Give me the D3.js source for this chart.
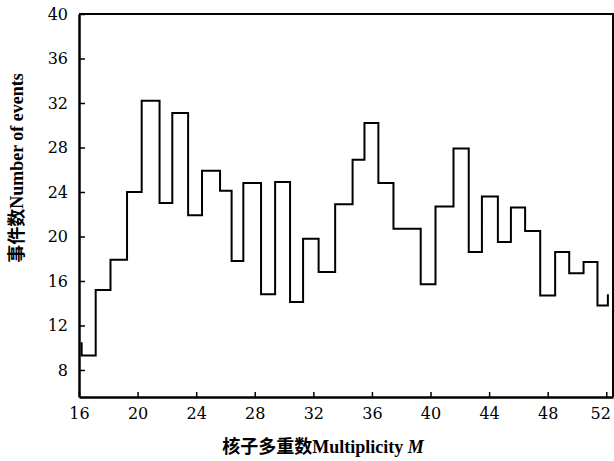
<!DOCTYPE html>
<html>
<head>
<meta charset="utf-8">
<script src="https://cdn.jsdelivr.net/npm/d3@7"></script>
<style>
  body { margin: 0; background: #fff; }
  svg { display: block; }
</style>
</head>
<body>
<div id="chart"></div>
<script>
// bin edges along multiplicity M
var binEdges = [16.18, 17.14, 18.15, 19.28, 20.28, 21.50, 22.37, 23.45, 24.40, 25.63,
    26.42, 27.22, 28.43, 29.39, 30.41, 31.30, 32.36, 33.49, 34.68, 35.49,
    36.44, 37.47, 39.33, 40.34, 41.57, 42.61, 43.51, 44.60, 45.49, 46.46,
    47.49, 48.51, 49.47, 50.45, 51.40, 52.11];
// number of events in each bin
var counts = [9.3, 15.2, 17.9, 24.0, 32.2, 23.0, 31.1, 21.9, 25.9, 24.1,
    17.8, 24.8, 14.8, 24.9, 14.1, 19.8, 16.8, 22.9, 26.9, 30.2,
    24.8, 20.7, 15.7, 22.7, 27.9, 18.6, 23.6, 19.5, 22.6, 20.5,
    14.7, 18.6, 16.7, 17.7, 13.8];
var startLevel = 10.5, endLevel = 14.8;
var xTicks = [16, 20, 24, 28, 32, 36, 40, 44, 48, 52];
var yTicks = [8, 12, 16, 20, 24, 28, 32, 36, 40];

var width = 614, height = 461;
var margin = { top: 14, right: 1, bottom: 64, left: 79 };

var x = d3.scaleLinear().domain([16, 52.46]).range([margin.left, width - margin.right]);
var y = d3.scaleLinear().domain([5.57, 40]).range([height - margin.bottom, margin.top]);

var svg = d3.select("#chart").append("svg")
    .attr("width", width)
    .attr("height", height);

// step outline of the histogram
var pts = [[binEdges[0], startLevel]];
counts.forEach(function(c, i) {
    pts.push([binEdges[i], c]);
    pts.push([binEdges[i + 1], c]);
});
pts.push([binEdges[binEdges.length - 1], endLevel]);

var stepLine = d3.line()
    .x(function(d) { return x(d[0]); })
    .y(function(d) { return y(d[1]); });

svg.append("path")
    .datum(pts)
    .attr("d", stepLine)
    .attr("fill", "none")
    .attr("stroke", "#000")
    .attr("stroke-width", 2)
    .attr("stroke-linejoin", "miter");

// axes, ticks pointing inward
var xAxis = svg.append("g")
    .attr("transform", "translate(0," + y.range()[0] + ")")
    .call(d3.axisBottom(x).tickValues(xTicks).tickSizeInner(-5).tickSizeOuter(0).tickPadding(11));
var yAxis = svg.append("g")
    .attr("transform", "translate(" + x.range()[0] + ",0)")
    .call(d3.axisLeft(y).tickValues(yTicks).tickSizeInner(-6).tickSizeOuter(0).tickPadding(11));

[xAxis, yAxis].forEach(function(ax) {
    ax.select(".domain").attr("stroke-width", 2.5);
    ax.selectAll(".tick line").attr("stroke-width", 1.5);
    ax.selectAll("text")
        .style("font-family", "'DejaVu Serif', serif")
        .style("font-size", "16px")
        .attr("fill", "#000");
});
// last label sits a bit left so it stays inside the page
xAxis.selectAll(".tick text").filter(function(d) { return d === 52; }).attr("dx", -6);

// frame top and right
svg.append("path")
    .attr("d", "M" + x.range()[0] + "," + y.range()[1] + "H" + x.range()[1] + "V" + y.range()[0])
    .attr("fill", "none")
    .attr("stroke", "#000")
    .attr("stroke-width", 2);

// axis titles
var xt = svg.append("text")
    .attr("x", 323)
    .attr("y", 453)
    .attr("text-anchor", "middle")
    .style("font-family", "'Liberation Serif', 'Noto Sans CJK SC', serif")
    .style("font-size", "18px")
    .style("font-weight", "bold");
xt.append("tspan").style("font-family", "'Noto Sans CJK SC'").text("核子多重数");
xt.append("tspan").text("Multiplicity ");
xt.append("tspan").style("font-style", "italic").text("M");

var yt = svg.append("text")
    .attr("transform", "translate(23,168) rotate(-90)")
    .attr("text-anchor", "middle")
    .style("font-family", "'Liberation Serif', 'Noto Sans CJK SC', serif")
    .style("font-size", "18px")
    .style("font-weight", "bold");
yt.append("tspan").style("font-family", "'Noto Sans CJK SC'").text("事件数");
yt.append("tspan").text("Number of events");
</script>
</body>
</html>
